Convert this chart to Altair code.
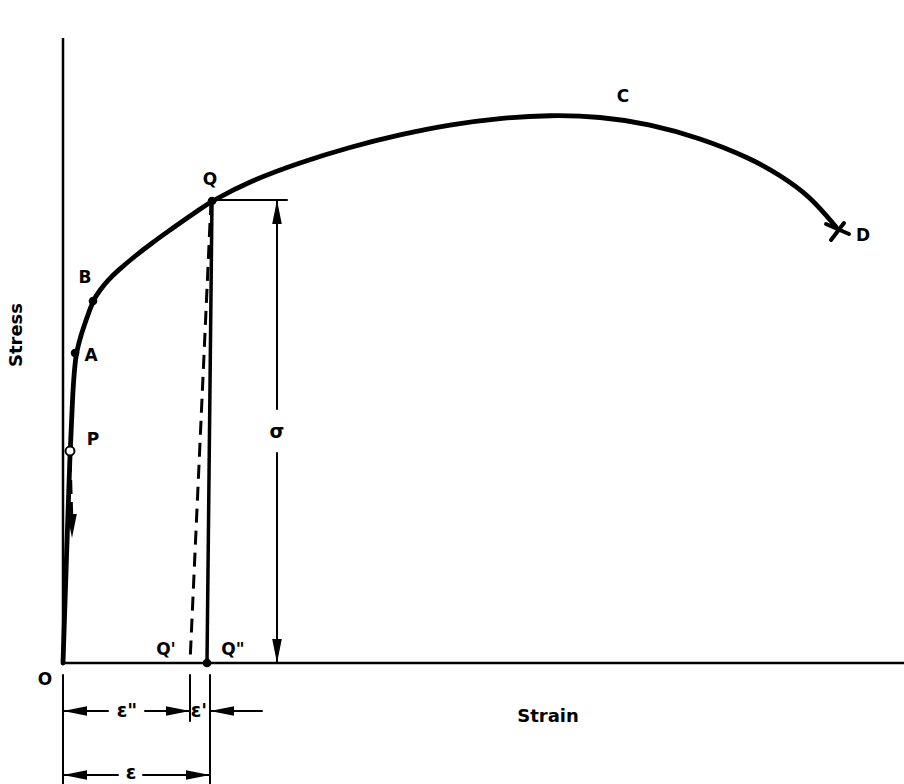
import altair as alt
import pandas as pd

# Stress-strain curve (strain, stress in diagram units)
curve_strain = [0, 3.5, 7, 9.5, 12, 21, 30, 37, 45, 55, 72, 89, 105, 122, 137, 149,
                187, 237, 287, 337, 387, 437, 487, 537, 587, 637, 687, 717, 747, 773]
curve_stress = [0, 106, 212, 263, 310, 337, 363, 373, 383, 392.5, 407, 420, 431.5,
                443.5, 454, 462, 482, 500.5, 516, 528.5, 538.5, 545, 548, 546.5,
                539, 525, 505, 488, 467, 436]

# Marked points on the curve
dot_names = ["A", "B", "Q", "Q''"]
dot_strain = [12, 30, 149, 144]
dot_stress = [310, 362, 462, 0]
p_strain, p_stress = [7], [212]

# Axes of the diagram
axis_x0 = [0, 0]
axis_y0 = [0, 0]
axis_x1 = [0, 841]
axis_y1 = [625, 0]

# Unloading from Q
unload_solid = dict(x=[149], y=[462], x2=[144], y2=[0])
unload_dash = dict(x=[148, 7], y=[462, 205], x2=[127, 9], y2=[0, 138])

# Dimension and extension lines, plus the fracture cross at D
dim_x = [214, 214, 150, 0, 82, 147, 0, 80, 0, 127, 147, 763, 781]
dim_y = [463, 210, 463, -48, -48, -48, -112, -112, -12, -12, -12, 439, 440]
dim_x2 = [214, 214, 224, 45, 127, 199, 55, 147, 0, 127, 147, 786, 768]
dim_y2 = [254, 0, 463, -48, -48, -48, -112, -112, -121, -58, -121, 429, 423]
dim_w = [2, 2, 2, 2, 2, 2, 2, 2, 2, 2, 2, 4, 4]

# Arrowheads: tip position and direction (0 up, 90 right, 180 down, 270 left)
arrow_x = [214, 214, 0, 127, 147, 0, 147, 9]
arrow_y = [463, 0, -48, -48, -48, -112, -112, 125]
arrow_dir = [0, 180, 270, 90, 270, 270, 90, 180]

# Point and region labels
label_text = ["Q", "B", "A", "P", "C", "D", "Q'", "Q\"", "O"]
label_x = [147, 22, 28, 30, 560, 800, 103, 170, -18]
label_y = [483, 385, 307, 223, 566, 427, 13, 13, -17]

# Symbols on the dimension lines
sym_text = ["σ", "ε\"", "ε'", "ε"]
sym_x = [214, 64, 136, 68]
sym_y = [231, -48, -48, -110]

X = alt.Scale(domain=[-63, 841], nice=False, zero=False)
Y = alt.Scale(domain=[-121, 663], nice=False, zero=False)
FONT = "DejaVu Sans"


def xy():
    return dict(x=alt.X("x:Q", scale=X, axis=None),
                y=alt.Y("y:Q", scale=Y, axis=None))


curve_df = pd.DataFrame({"x": curve_strain, "y": curve_stress,
                         "i": range(len(curve_strain))})
curve = alt.Chart(curve_df).mark_line(
    color="black", strokeWidth=4.8, interpolate="basis", strokeCap="round"
).encode(**xy(), order="i:O")

axes_df = pd.DataFrame({"x": axis_x0, "y": axis_y0, "x2": axis_x1, "y2": axis_y1})
axes = alt.Chart(axes_df).mark_rule(color="black", strokeWidth=2.5).encode(
    **xy(), x2="x2:Q", y2="y2:Q")

solid = alt.Chart(pd.DataFrame(unload_solid)).mark_rule(
    color="black", strokeWidth=3.5).encode(**xy(), x2="x2:Q", y2="y2:Q")

dashed = alt.Chart(pd.DataFrame(unload_dash)).mark_rule(
    color="black", strokeWidth=3, strokeDash=[14, 8]).encode(
    **xy(), x2="x2:Q", y2="y2:Q")

dim_df = pd.DataFrame({"x": dim_x, "y": dim_y, "x2": dim_x2, "y2": dim_y2, "w": dim_w})
dims = alt.Chart(dim_df).mark_rule(color="black", strokeCap="round").encode(
    **xy(), x2="x2:Q", y2="y2:Q",
    strokeWidth=alt.StrokeWidth("w:Q", scale=None))

arrow_df = pd.DataFrame({"x": arrow_x, "y": arrow_y, "a": arrow_dir})
arrows = alt.Chart(arrow_df).mark_point(
    shape="M0,0L0.4,2L-0.4,2Z", filled=True, color="black", opacity=1, size=576
).encode(**xy(), angle=alt.Angle("a:Q", scale=None))

dots_df = pd.DataFrame({"name": dot_names, "x": dot_strain, "y": dot_stress})
dots = alt.Chart(dots_df).mark_point(
    shape="circle", filled=True, color="black", opacity=1, size=75).encode(**xy())

p_df = pd.DataFrame({"x": p_strain, "y": p_stress})
p_dot = alt.Chart(p_df).mark_point(
    shape="circle", filled=True, fill="white", stroke="black", strokeWidth=2,
    opacity=1, size=80).encode(**xy())

lab_df = pd.DataFrame({"t": label_text, "x": label_x, "y": label_y})
labels = alt.Chart(lab_df).mark_text(
    font=FONT, fontWeight="bold", fontSize=17, color="black",
    align="center", baseline="middle").encode(**xy(), text="t:N")

sym_df = pd.DataFrame({"t": sym_text, "x": sym_x, "y": sym_y})
symbols = alt.Chart(sym_df).mark_text(
    font=FONT, fontWeight="bold", fontSize=19, color="black",
    align="center", baseline="middle").encode(**xy(), text="t:N")

strain_df = pd.DataFrame({"t": ["Strain"], "x": [485], "y": [-54]})
strain_lab = alt.Chart(strain_df).mark_text(
    font=FONT, fontWeight="bold", fontSize=18, color="black",
    align="center", baseline="middle").encode(**xy(), text="t:N")

stress_df = pd.DataFrame({"t": ["Stress"], "x": [-46], "y": [328]})
stress_lab = alt.Chart(stress_df).mark_text(
    font=FONT, fontWeight="bold", fontSize=18, color="black", angle=270,
    align="center", baseline="middle").encode(**xy(), text="t:N")

chart = alt.layer(
    axes, dims, dashed, solid, curve, arrows, dots, p_dot,
    labels, symbols, strain_lab, stress_lab
).properties(
    width=904, height=784, padding=0,
    autosize=alt.AutoSizeParams(type="none"),
    background="white",
).configure_view(stroke=None)

chart.save("out.html", embed_options={"renderer": "svg", "actions": False})
